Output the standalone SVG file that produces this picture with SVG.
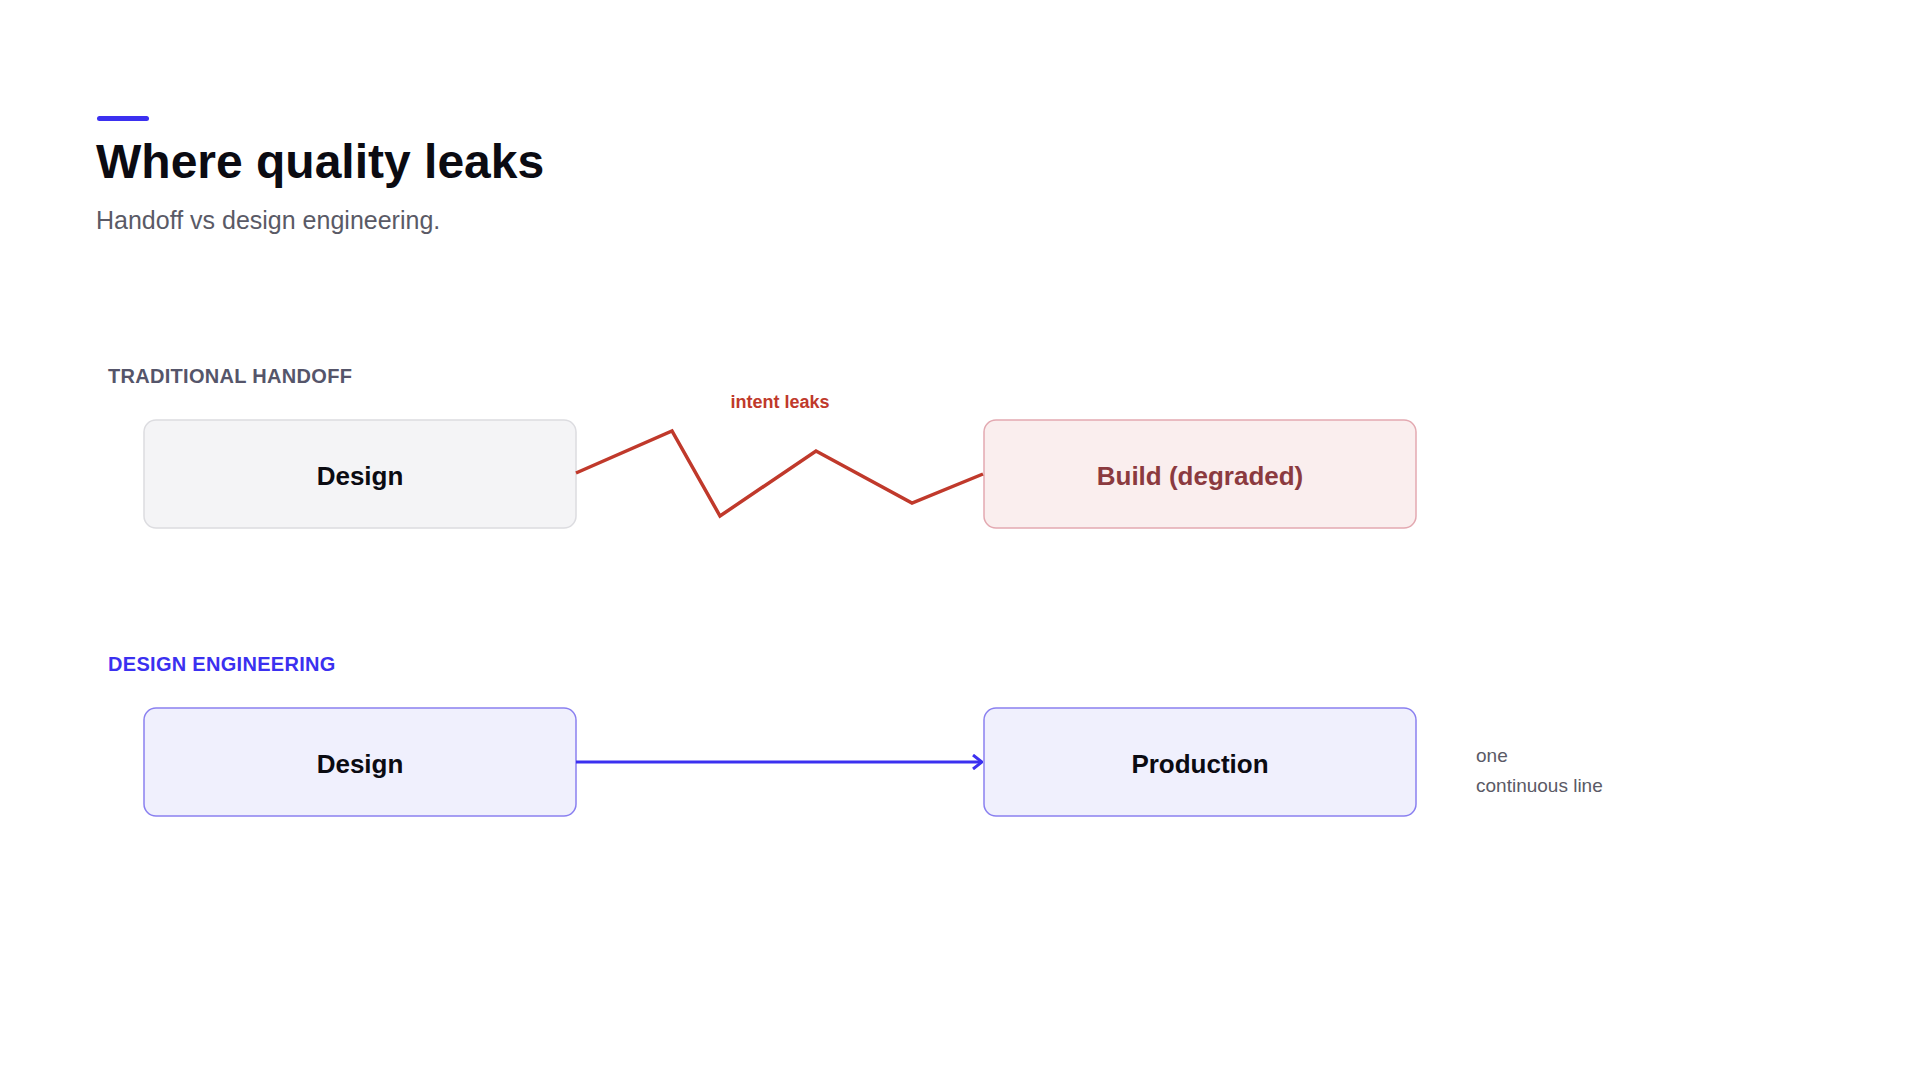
<svg xmlns="http://www.w3.org/2000/svg" width="1920" height="1080" viewBox="0 0 1920 1080">
<style>
text{font-family:"Liberation Sans",Arial,sans-serif}
.t{font-size:26px;font-weight:bold;text-anchor:middle}
.sec{font-size:20px;font-weight:bold;letter-spacing:0.3px}
.note{font-size:19px;fill:#5a5a66}
</style>
<defs>
<marker id="ah" viewBox="0 0 12 16" refX="11" refY="8" markerWidth="12" markerHeight="16" markerUnits="userSpaceOnUse" orient="auto">
<path d="M2,1 L11,8 L2,15" fill="none" stroke="#3b30f0" stroke-width="3"/>
</marker>
</defs>
<rect width="1920" height="1080" fill="#fff"/>
<rect x="97" y="116" width="52" height="5" rx="2.5" fill="#3b30f0"/>
<text x="96" y="178" font-size="48" font-weight="bold" fill="#0b0b12">Where quality leaks</text>
<text x="96" y="229" font-size="25" fill="#5a5a66">Handoff vs design engineering.</text>
<text class="sec" x="108" y="383" fill="#55556a">TRADITIONAL HANDOFF</text>
<text class="sec" x="108" y="671" fill="#3b30f0">DESIGN ENGINEERING</text>
<g id="design1"><rect x="144" y="420" width="432" height="108" rx="12" fill="#f4f4f6" stroke="#dcdce0" stroke-width="1.5"/><text class="t" x="360" y="485" fill="#0b0b12">Design</text></g>
<g id="build"><rect x="984" y="420" width="432" height="108" rx="12" fill="#faeeee" stroke="#e3a9b1" stroke-width="1.5"/><text class="t" x="1200" y="485" fill="#8b3a3f">Build (degraded)</text></g>
<g id="design2"><rect x="144" y="708" width="432" height="108" rx="12" fill="#f0f0fd" stroke="#8a80f0" stroke-width="1.5"/><text class="t" x="360" y="773" fill="#0b0b12">Design</text></g>
<g id="production"><rect x="984" y="708" width="432" height="108" rx="12" fill="#f0f0fd" stroke="#8a80f0" stroke-width="1.5"/><text class="t" x="1200" y="773" fill="#0b0b12">Production</text></g>
<g id="connectors">
<polyline points="576,473 672,431 720,516 816,451 912,503 983,474" fill="none" stroke="#c0392b" stroke-width="3.5" stroke-linejoin="miter"/>
<text x="780" y="408" font-size="18" font-weight="bold" fill="#c0392b" text-anchor="middle">intent leaks</text>
<line x1="576" y1="762" x2="982" y2="762" stroke="#3b30f0" stroke-width="3" marker-end="url(#ah)"/>
</g>
<text class="note" x="1476" y="762">one</text>
<text class="note" x="1476" y="792">continuous line</text>
</svg>
